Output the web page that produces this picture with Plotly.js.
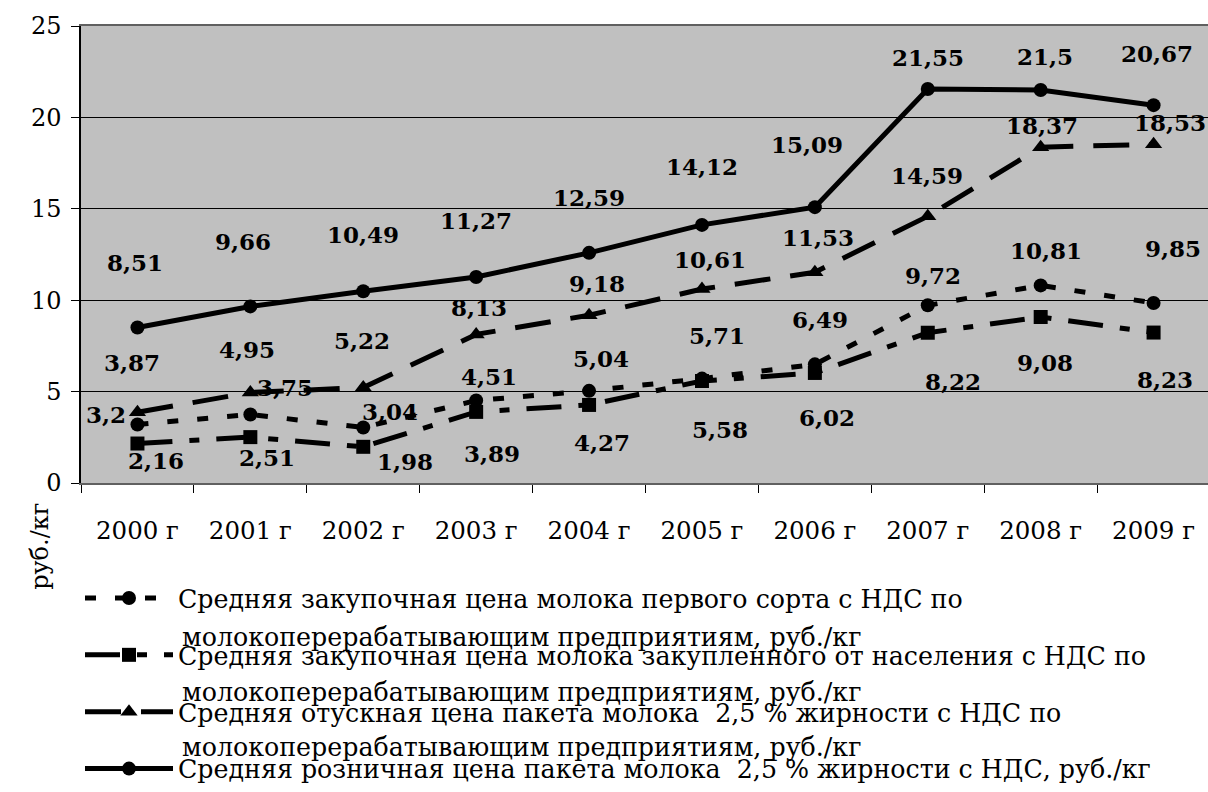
<!DOCTYPE html>
<html><head><meta charset="utf-8">
<script src="https://cdn.plot.ly/plotly-3.0.1.min.js"></script>
<style>html,body{margin:0;padding:0;background:#fff}</style>
</head><body>
<div id="chart" style="width:1208px;height:792px"></div>
<script>
// ---- data ----
const years = ['2000 г','2001 г','2002 г','2003 г','2004 г','2005 г','2006 г','2007 г','2008 г','2009 г'];
const purchaseFirstGrade = [3.2, 3.75, 3.04, 4.51, 5.04, 5.71, 6.49, 9.72, 10.81, 9.85];
const purchasePopulation = [2.16, 2.51, 1.98, 3.89, 4.27, 5.58, 6.02, 8.22, 9.08, 8.23];
const wholesalePackage  = [3.87, 4.95, 5.22, 8.13, 9.18, 10.61, 11.53, 14.59, 18.37, 18.53];
const retailPackage     = [8.51, 9.66, 10.49, 11.27, 12.59, 14.12, 15.09, 21.55, 21.5, 20.67];
const seriesNames = [
  'Средняя закупочная цена молока первого сорта с НДС по',
  'Средняя закупочная цена молока закупленного от населения с НДС по',
  'Средняя отускная цена пакета молока\u00a0 2,5 % жирности с НДС по',
  'Средняя розничная цена пакета молока\u00a0 2,5 % жирности с НДС, руб./кг'
];
const nameContinuation = 'молокоперерабатывающим предприятиям, руб./кг';
const yTicks = [0, 5, 10, 15, 20, 25];
const yTitle = 'руб./кг';

// ---- label placement (pixel offsets from each point: dx right, dy down) ----
const labelOffsets = [
  [[-31,-10],[35,-27],[27,-16],[13,-24],[12,-32],[15,-43],[5,-45],[5,-30],[5,-35],[19,-54]],
  [[19,17],[17,20],[42,15],[16,42],[13,38],[18,48],[12,45],[25,49],[4,45],[11,47]],
  [[-5,-50],[-3,-43],[-1,-47],[3,-27],[8,-32],[8,-30],[3,-35],[-1,-41],[1,-22],[16,-22]],
  [[-2,-65],[-7,-65],[0,-57],[0,-56],[0,-55],[0,-58],[-8,-63],[0,-32],[4,-33],[3,-52]]
];

const FONT = 'DejaVu Serif';
const seriesValues = [purchaseFirstGrade, purchasePopulation, wholesalePackage, retailPackage];
const styles = [
  {dash: '11px,19px', symbol: 'circle', size: 14},
  {dash: '35px,17px,10px,17px', symbol: 'square', size: 14},
  {dash: '36px,20px', symbol: 'triangle-up', size: 15},
  {dash: 'solid', symbol: 'circle', size: 14}
];

const traces = seriesValues.map((vals, s) => ({
  type: 'scatter', mode: 'lines+markers',
  x: years, y: vals, name: seriesNames[s], legendgroup: 'g' + s,
  line: {color: '#000', width: 5, dash: styles[s].dash},
  marker: {color: '#000', symbol: styles[s].symbol, size: styles[s].size},
  cliponaxis: false
}));

const annotations = [];
seriesValues.forEach((vals, s) => {
  vals.forEach((v, i) => {
    annotations.push({
      x: years[i], y: v, xref: 'x', yref: 'y', showarrow: false,
      text: '<b>' + String(v).replace('.', ',') + '</b>',
      xshift: labelOffsets[s][i][0], yshift: -labelOffsets[s][i][1],
      font: {family: FONT, size: 23, color: '#000'}
    });
  });
});

// pixel helpers for paper positions (plot: left 81, top 26, width 1127, height 458)
const px2x = p => (p - 81) / 1127;
const py2y = p => (484 - p) / 458;

// continuation lines of the legend entries
[639, 694, 749].forEach(py => {
  annotations.push({
    xref: 'paper', yref: 'paper', x: px2x(180), y: py2y(py),
    xanchor: 'left', yanchor: 'middle', showarrow: false,
    text: nameContinuation, font: {family: FONT, size: 25.3, color: '#000'}
  });
});
// y axis title
annotations.push({
  xref: 'paper', yref: 'paper', x: px2x(40), y: py2y(548),
  xanchor: 'center', yanchor: 'middle', showarrow: false, textangle: -90,
  text: yTitle, font: {family: FONT, size: 24, color: '#000'}
});

const layout = {
  width: 1208, height: 792,
  margin: {l: 81, r: 0, t: 26, b: 308, pad: 0},
  paper_bgcolor: '#fff', plot_bgcolor: '#c0c0c0',
  font: {family: FONT, color: '#000', size: 24},
  xaxis: {
    type: 'category', range: [-0.5, 9.482], tickson: 'boundaries',
    ticks: 'outside', ticklen: 8, tickcolor: '#000', tickwidth: 1,
    showline: true, linecolor: '#606060', linewidth: 2, mirror: true,
    showgrid: false, zeroline: false,
    tickfont: {family: FONT, size: 24.5, color: '#000'}, ticklabelstandoff: 25
  },
  yaxis: {
    range: [0, 25], tickvals: yTicks, ticktext: yTicks.map(String),
    ticks: 'outside', ticklen: 8, tickcolor: '#000', tickwidth: 1,
    showline: true, linecolor: '#000', linewidth: 1.5,
    showgrid: true, gridcolor: '#000', gridwidth: 1, zeroline: false,
    tickfont: {family: FONT, size: 24, color: '#000'}, ticklabelstandoff: 5
  },
  showlegend: true,
  legend: {
    x: px2x(80), xanchor: 'left', y: py2y(576), yanchor: 'top',
    bgcolor: 'rgba(0,0,0,0)', borderwidth: 0,
    font: {family: FONT, size: 25.3, color: '#000'},
    itemwidth: 88, tracegroupgap: 21, traceorder: 'grouped'
  },
  annotations: annotations
};

Plotly.newPlot('chart', traces, layout, {displayModeBar: false, responsive: false});
</script>
</body></html>
